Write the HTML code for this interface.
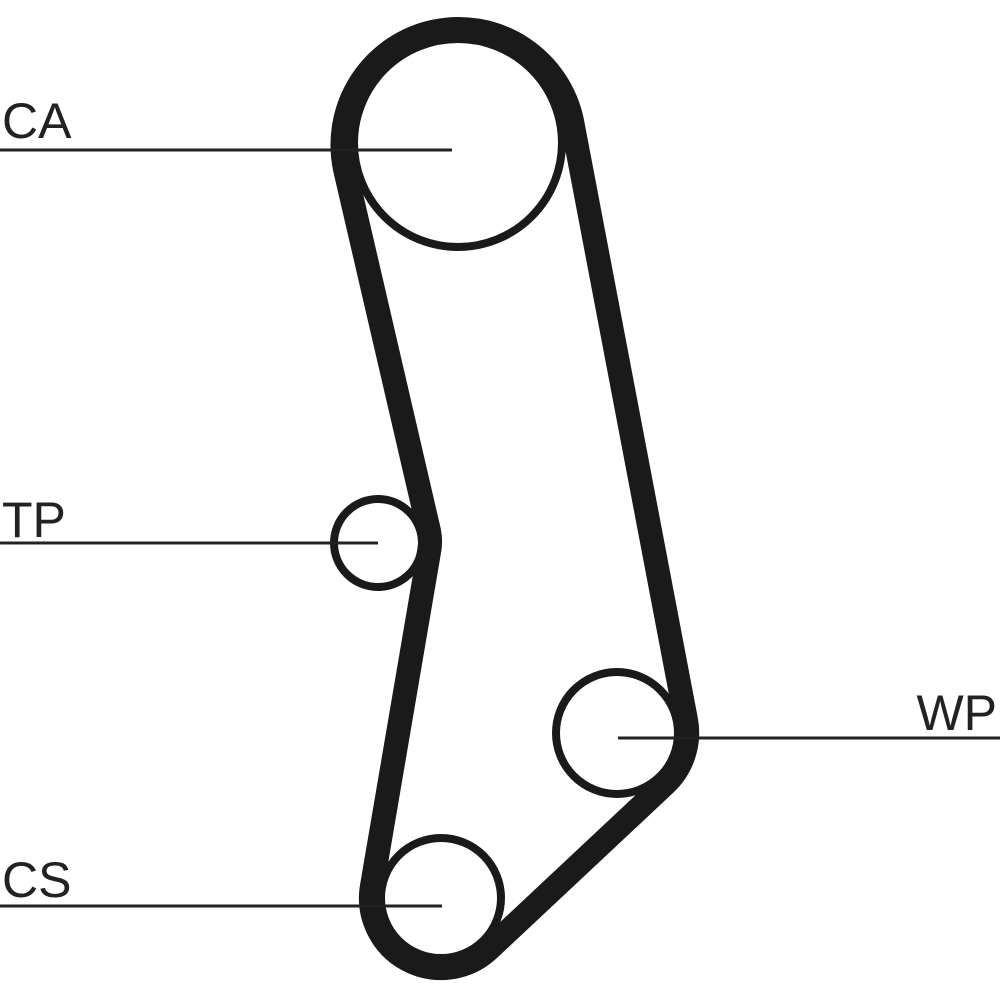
<!DOCTYPE html>
<html><head><meta charset="utf-8"><style>
html,body{margin:0;padding:0;background:#fff;}
svg{display:block;}
text{font-family:"Liberation Sans",sans-serif;font-size:50px;fill:#222;}
</style></head><body>
<svg width="1000" height="1000" viewBox="0 0 1000 1000" xmlns="http://www.w3.org/2000/svg">
<rect width="1000" height="1000" fill="#fff"/>
<g fill="none" stroke="#1a1a1a">
<circle cx="458" cy="143" r="104" stroke-width="8"/>
<circle cx="378" cy="543" r="44" stroke-width="8"/>
<circle cx="617" cy="733" r="61" stroke-width="8"/>
<circle cx="441" cy="898" r="60" stroke-width="8"/>
<path d="M345,169 A116,116 0 1 1 572,121 L686,720 A70,70 0 0 1 665,784 L489,949 A70,70 0 0 1 372,886 L429,552 A52,52 0 0 0 429,531 Z" stroke-width="24" stroke-linejoin="round"/>
<g stroke-width="3" stroke="#222">
<line x1="0" y1="150" x2="452" y2="150"/>
<line x1="0" y1="543" x2="378" y2="543"/>
<line x1="618" y1="738" x2="1000" y2="738"/>
<line x1="0" y1="906" x2="442" y2="906"/>
</g>
</g>
<text x="2" y="138">CA</text>
<text x="2" y="537">TP</text>
<text x="997" y="730" text-anchor="end">WP</text>
<text x="2" y="897">CS</text>
</svg>
</body></html>
